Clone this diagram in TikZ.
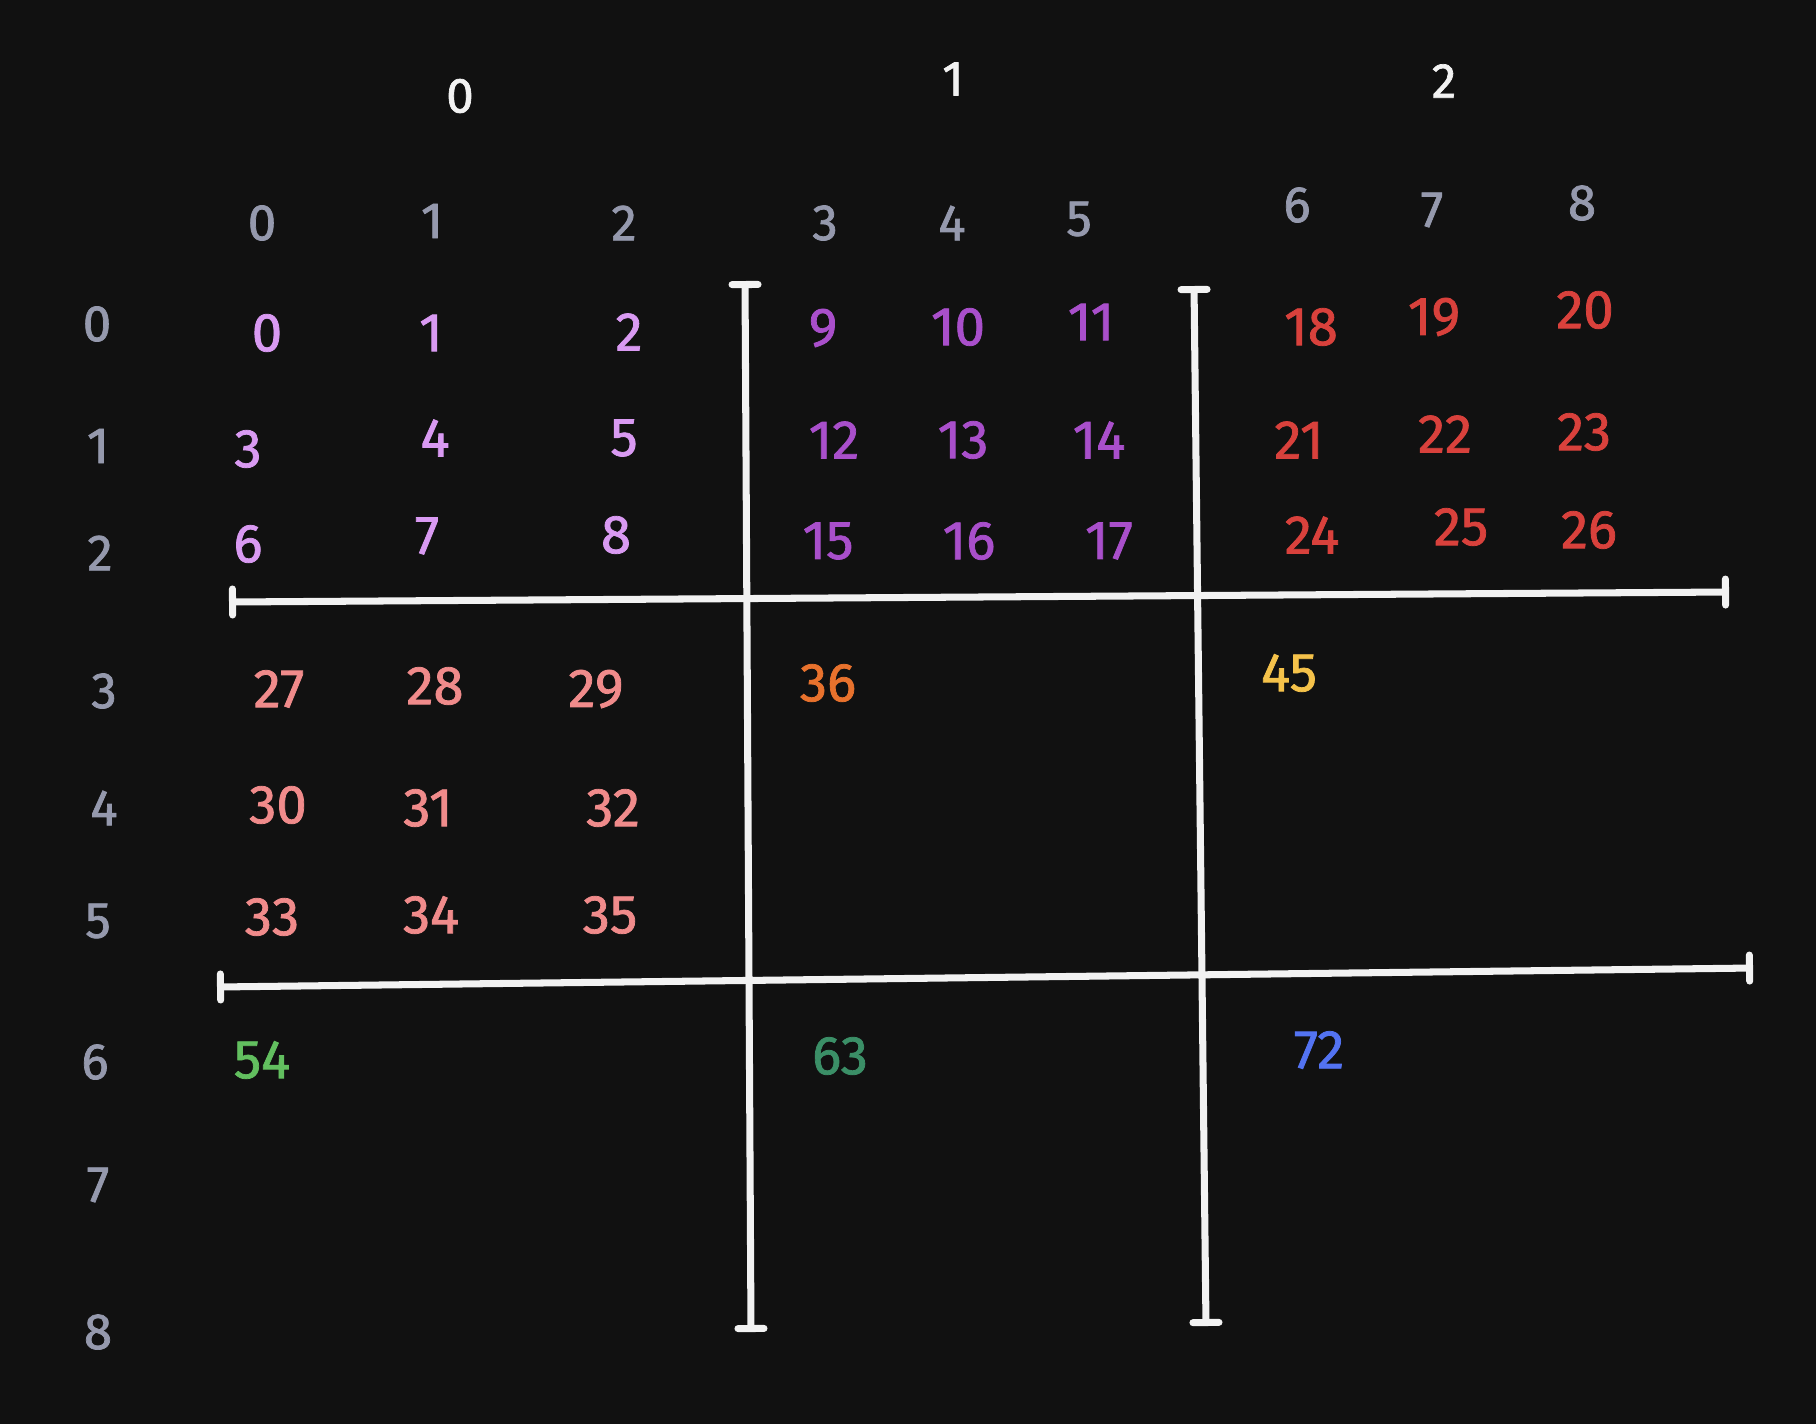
\documentclass[tikz,border=0pt]{standalone}
\usepackage{fontspec}
\setmainfont{Fira Sans}[AutoFakeBold=1.4]
\usetikzlibrary{arrows.meta}
\definecolor{bgdark}{HTML}{111111}
\definecolor{chalk}{HTML}{F2F2F2}
\definecolor{idxgrey}{HTML}{9599AD}
\definecolor{lilac}{HTML}{D99AF2}
\definecolor{grape}{HTML}{A94FCB}
\definecolor{brick}{HTML}{D9413C}
\definecolor{salmon}{HTML}{F08B8B}
\definecolor{tangerine}{HTML}{E8722D}
\definecolor{mustard}{HTML}{F5C24A}
\definecolor{leaf}{HTML}{62BF5F}
\definecolor{pine}{HTML}{3B8F67}
\definecolor{azure}{HTML}{5373F2}
\begin{document}
\begin{tikzpicture}[
    x=0.01cm, y=-0.01cm,
    head/.style={inner sep=0pt, font=\fontsize{14}{16}\selectfont\bfseries, text=chalk},
    idx/.style={inner sep=0pt, font=\fontsize{14.5}{16}\selectfont\bfseries, text=idxgrey},
    cell/.style={inner sep=0pt, font=\fontsize{15.5}{17}\selectfont\bfseries},
    wall/.style={draw=chalk, line width=2pt, line cap=round,
      {Bar[width=0.26cm, round]}-{Bar[width=0.26cm, round]}}
]
  \fill[bgdark] (0,0) rectangle (1816,1424);
  \useasboundingbox (0,0) rectangle (1816,1424);
  % block headers
  \foreach \i/\x/\y in {0/460/96, 1/953/79, 2/1444/81} {
    \node[head] (h\i) at (\x, \y) {\i};
  }
  % column indices
  \foreach \i/\x/\y in {0/262/223, 1/432/221, 2/624/223, 3/825/223, 4/952/223,
                        5/1079/219, 6/1297/205, 7/1432/210, 8/1582/203} {
    \node[idx] (col\i) at (\x, \y) {\i};
  }
  % row indices
  \foreach \i/\x/\y in {0/97/324, 1/98/446, 2/100/553, 3/104/691, 4/104/808,
                        5/98/921, 6/95/1062, 7/98/1185, 8/98/1332} {
    \node[idx] (row\i) at (\x, \y) {\i};
  }
  % block (0,0)
  \foreach \n/\x/\y in {0/267/333, 1/431/333, 2/629/332, 3/248/449, 4/435/438,
                        5/624/438, 6/248/544, 7/427/536, 8/616/535} {
    \node[cell, text=lilac] (c\n) at (\x, \y) {\n};
  }
  % block (0,1)
  \foreach \n/\x/\y in {9/823/328, 10/958/327, 11/1091/322, 12/834/440, 13/963/440,
                        14/1099/440, 15/828/541, 16/969/541, 17/1109/541} {
    \node[cell, text=grape] (c\n) at (\x, \y) {\n};
  }
  % block (0,2)
  \foreach \n/\x/\y in {18/1311/327, 19/1434/317, 20/1585/310, 21/1299/440, 22/1445/434,
                        23/1584/432, 24/1312/535, 25/1461/527, 26/1589/530} {
    \node[cell, text=brick] (c\n) at (\x, \y) {\n};
  }
  % block (1,0)
  \foreach \n/\x/\y in {27/279/689, 28/435/686, 29/596/689, 30/278/805, 31/428/808,
                        32/613/808, 33/272/917, 34/431/915, 35/610/915} {
    \node[cell, text=salmon] (c\n) at (\x, \y) {\n};
  }
  % first cell of the other blocks
  \node[cell, text=tangerine] (c36) at (828, 683) {36};
  \node[cell, text=mustard] (c45) at (1289, 673) {45};
  \node[cell, text=leaf] (c54) at (262, 1060) {54};
  \node[cell, text=pine] (c63) at (840, 1056) {63};
  \node[cell, text=azure] (c72) at (1319, 1050) {72};
  % block walls
  \coordinate (v1a) at (745, 281);  \coordinate (v1b) at (751, 1332);
  \coordinate (v2a) at (1194, 286); \coordinate (v2b) at (1206, 1326);
  \coordinate (h1a) at (229, 602);  \coordinate (h1b) at (1729, 592);
  \coordinate (h2a) at (217, 987);  \coordinate (h2b) at (1753, 968);
  \draw[wall] (v1a) -- (v1b);
  \draw[wall] (v2a) -- (v2b);
  \draw[wall] (h1a) -- (h1b);
  \draw[wall] (h2a) -- (h2b);
\end{tikzpicture}
\end{document}
